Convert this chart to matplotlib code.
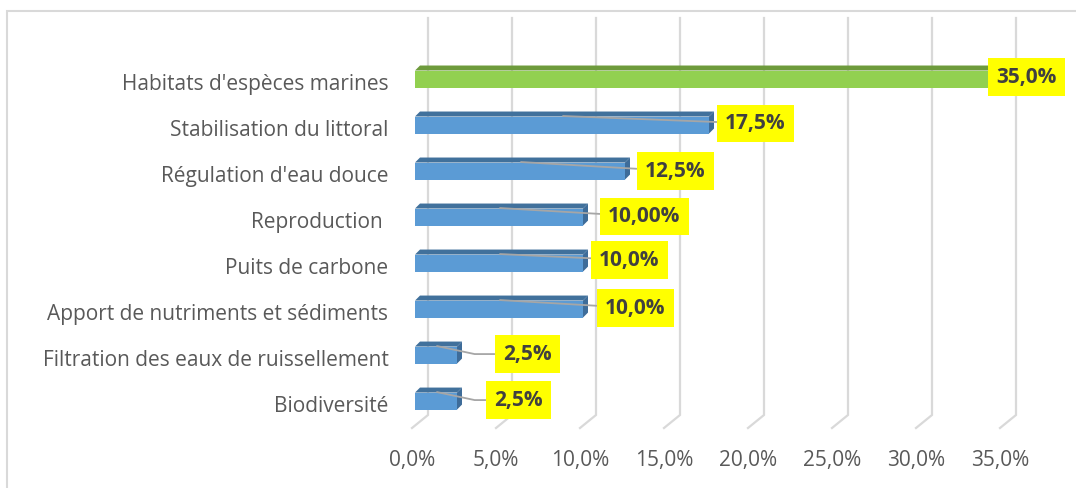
import matplotlib.pyplot as plt
from matplotlib.patches import Polygon, Rectangle
from matplotlib.transforms import ScaledTranslation, IdentityTransform

categories = ["Habitats d'espèces marines", "Stabilisation du littoral",
              "Régulation d'eau douce", "Reproduction ", "Puits de carbone",
              "Apport de nutriments et sédiments",
              "Filtration des eaux de ruissellement", "Biodiversité"]
values = [35.0, 17.5, 12.5, 10.0, 10.0, 10.0, 2.5, 2.5]
value_labels = ["35,0%", "17,5%", "12,5%", "10,00%", "10,0%", "10,0%", "2,5%", "2,5%"]
ticks = [0, 5, 10, 15, 20, 25, 30, 35]
tick_labels = ["0,0%", "5,0%", "10,0%", "15,0%", "20,0%", "25,0%", "30,0%", "35,0%"]

# label box placement (pixels from the bar end) and leader style
label_dx = [-12, 11, 15, 20, 11, 17, 41, 32]
label_dy = [5, 4.5, 3, 3.5, 6, 4, 4, 4]
leader = ["none", "straight", "straight", "straight", "straight", "straight", "bent", "bent"]

FONT = "Open Sans"
W, H, DPI = 1076, 488, 100
fig = plt.figure(figsize=(W / DPI, H / DPI), dpi=DPI)
fig.patch.set_facecolor("white")

# outer chart border
fig.add_artist(Rectangle((7 / W, -0.5), 1.5, 1.5 - 11 / H, transform=fig.transFigure,
                         fill=False, edgecolor="#D9D9D9", lw=1.5))

ax_left, ax_right, ax_top, ax_bot = 412, 1000, 31, 428
ax = fig.add_axes([ax_left / W, (H - ax_bot) / H, (ax_right - ax_left) / W, (ax_bot - ax_top) / H])
ax.set_xlim(0, 35)
ax.set_ylim(7.52, -1.109)
ax.set_autoscale_on(False)
for s in ax.spines.values():
    s.set_visible(False)

def px(dx, dy):
    return ScaledTranslation(dx / DPI, dy / DPI, fig.dpi_scale_trans)

ident = IdentityTransform()

# back-wall gridlines with their slanted floor part
GX, GY = 16, 13
top_disp = ax.transAxes.transform((0, 1))[1]
for t in ticks:
    xf, yf = ax.transData.transform((t, 7.52))
    ax.plot([xf, xf + GX, xf + GX], [yf, yf + GY, top_disp + GY], transform=ident,
            color="#D9D9D9", lw=1.6, zorder=0.5, clip_on=False, solid_joinstyle="miter")

# 3D bars: front face + top + right side
D = 5
bar_h = 0.37
for i, v in enumerate(values):
    green = i == 0
    face = "#92D050" if green else "#5B9BD5"
    top = "#6E9B3C" if green else "#41719C"
    side = "#6E9B3C" if green else "#3E6C99"
    ax.barh(i, v, height=bar_h, color=face, zorder=2,
            transform=ax.transData + px(3, 3))
    (x0, y0), (x1, y1) = (ax.transData + px(3, 3)).transform([(0, i + bar_h / 2), (v, i - bar_h / 2)])
    ax.add_patch(Polygon([(x0, y1), (x1, y1), (x1 + D, y1 + D), (x0 + D, y1 + D)],
                         closed=True, transform=ident, facecolor=top, edgecolor="none", zorder=2))
    ax.add_patch(Polygon([(x1, y0), (x1, y1), (x1 + D, y1 + D), (x1 + D, y0 + D)],
                         closed=True, transform=ident, facecolor=side, edgecolor="none", zorder=2))

# value labels with leader lines
for i, (v, lab) in enumerate(zip(values, value_labels)):
    arrow = None
    if leader[i] != "none":
        cs = "angle,angleA=0,angleB=-12,rad=0" if leader[i] == "bent" else "arc3"
        arrow = dict(arrowstyle="-", color="#A6A6A6", lw=1.3,
                     connectionstyle=cs, shrinkA=0, shrinkB=0)
    ax.annotate(lab, xy=(v / 2, i), xycoords=ax.transData + px(4, 12),
                xytext=(v, i), textcoords=ax.transData + px(label_dx[i] + 8, label_dy[i]),
                ha="left", va="center", fontsize=15, fontweight="bold", color="#404040",
                family=FONT,
                bbox=dict(boxstyle="square,pad=0.4", facecolor="#FFFF00", edgecolor="none"),
                arrowprops=arrow, zorder=5)

ax.set_yticks(range(len(categories)), categories)
ax.set_xticks(ticks, tick_labels)
ax.tick_params(axis="y", length=0, pad=17, labelsize=15, labelcolor="#595959")
ax.tick_params(axis="x", length=0, pad=16, labelsize=15, labelcolor="#595959")
for lbl in ax.get_xticklabels() + ax.get_yticklabels():
    lbl.set_family(FONT)
    lbl.set_y(lbl.get_position()[1])

fig.savefig("out.png", dpi=DPI, facecolor="white")
